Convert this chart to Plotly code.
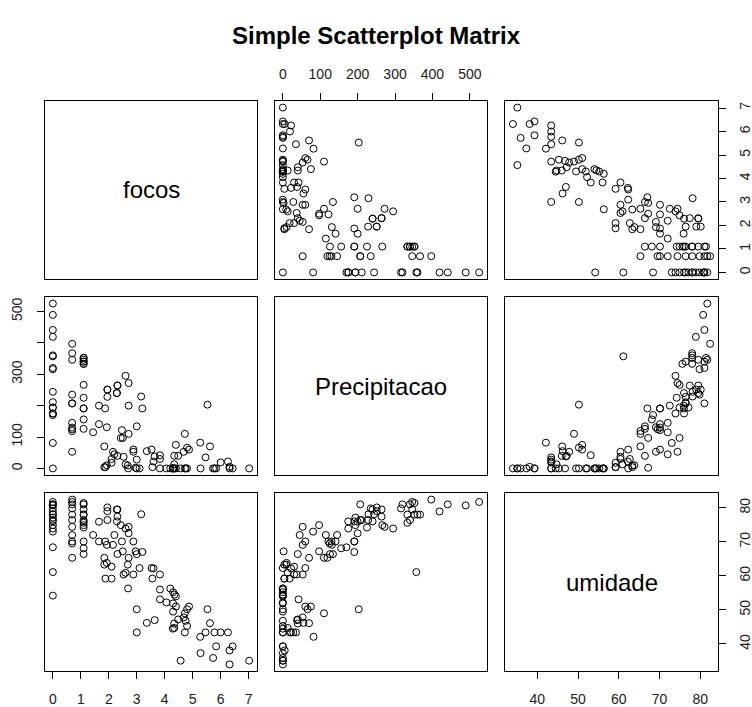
import plotly.graph_objects as go

# ---- data ----
focos = [0, 0, 0, 0, 0, 0, 0, 0, 0, 0, 0,
         0.69, 0.69, 0.69, 0.69, 0.69, 0.69, 0.69, 0.69, 0.69,
         1.1, 1.1, 1.1, 1.1, 1.1, 1.1, 1.1, 1.1, 1.1,
         1.44, 1.65, 1.65, 1.95, 1.95, 1.87, 1.93, 1.84, 1.93, 1.84, 1.88,
         2.2, 2.15, 2.31, 2.1, 2.1, 2.31, 2.29,
         2.47, 2.43, 2.5, 2.53, 2.6, 2.71, 2.71, 2.71, 2.68, 2.6, 2.69,
         2.88, 2.88, 3.16, 3.2, 3.0, 3.1, 2.96,
         3.53, 3.56, 3.6, 3.83, 3.83, 3.83,
         7.02, 6.32, 6.32, 6.43, 6.26, 6.0, 5.84, 5.73, 5.46, 5.78, 5.28, 5.27, 5.62, 5.53,
         4.2, 4.3, 4.35, 4.4, 4.06, 4.3, 4.87, 4.8, 4.3, 4.72, 4.68, 4.4, 4.48, 4.75,
         4.34, 4.8, 4.34, 4.29, 4.72, 4.57,
         3.0, 3.0, 3.36, 3.64,
         0, 0, 1.1, 0, 1.1, 0, 0.69, 1.1, 2.31, 1.95, 2.29, 0, 1.1, 0.69, 0]

precipitacao = [525, 489, 316, 244, 211, 194, 175, 81, 170, 357, 0,
                397, 346, 235, 207, 53, 145, 130, 125, 119,
                352, 346, 340, 333, 266, 225, 191, 156, 126,
                115, 200, 141, 251, 228, 191, 131, 70, 10, 4, 4,
                45, 53, 40, 30, 18, 264, 240,
                122, 97, 97, 37, 295, 272, 200, 110, 9, 13, 0,
                60, 53, 229, 191, 134, 0, 2,
                60, 4, 22, 30, 0, 42,
                0, 0, 5, 0, 22, 19, 0, 0, 35, 0, 0, 82, 70, 203,
                0, 0, 0, 0, 0, 0, 60, 66, 0, 110, 53, 75, 40, 0,
                40, 0, 13, 0, 0, 0,
                0, 28, 55, 38,
                441, 419, 340, 320, 333, 360, 367, 352, 264, 251, 240, 194, 191, 207, 175]

umidade = [81.7, 80.7, 79.8, 78.1, 76.4, 74.9, 73.9, 73.0, 68.4, 61.1, 54.2,
           82.4, 81.7, 79.8, 76.4, 74.4, 72.0, 70.1, 69.5, 65.3,
           81.4, 79.5, 76.4, 75.6, 74.9, 74.2, 70.1, 68.1, 66.4,
           72.0, 75.9, 70.1, 80.1, 76.4, 70.1, 69.1, 65.3, 63.8, 63.3, 59.2,
           72.0, 69.1, 66.4, 62.7, 59.2, 77.4, 76.0,
           70.1, 74.9, 67.2, 60.4, 73.9, 74.4, 72.5, 65.3, 63.3, 60.9, 56.3,
           70.1, 60.4, 78.1, 67.0, 66.4, 62.3, 67.2,
           62.3, 59.2, 62.2, 60.4, 56.0, 53.1,
           35.1, 34.0, 38.1, 39.3, 43.4, 43.4, 39.3, 35.9, 43.4, 43.4, 37.3, 42.1, 46.1, 50.2,
           56.3, 55.2, 54.5, 54.0, 52.2, 51.9, 51.0, 50.2, 49.5, 49.0, 47.8, 51.0, 47.2, 46.8,
           46.0, 45.3, 44.7, 44.5, 43.4, 35.1,
           50.2, 43.4, 46.2, 47.0,
           81.0, 78.9, 81.0, 81.0, 78.0, 78.0, 78.0, 78.0, 79.5, 79.0, 79.5, 77.1, 76.0, 81.0, 76.0]

var_names = ["focos", "Precipitacao", "umidade"]
tick_vals = [[0, 1, 2, 3, 4, 5, 6, 7],
             [0, 100, 200, 300, 400, 500],
             [40, 50, 60, 70, 80]]
tick_text_x = [["0", "1", "2", "3", "4", "5", "6", "7"],
               ["0", "100", "200", "300", "400", "500"],
               ["40", "50", "60", "70", "80"]]
tick_text_y = [["0", "1", "2", "3", "4", "5", "6", "7"],
               ["0", "100", "", "300", "", "500"],
               ["40", "50", "60", "70", "80"]]

data = [focos, precipitacao, umidade]

W, H = 752, 707
col_px = [(45, 257), (275, 487), (505, 718)]
row_px = [(101, 279), (297, 475), (493, 671)]


def rng(v):
    lo, hi = min(v), max(v)
    s = hi - lo
    return [lo - 0.04 * s, hi + 0.04 * s]


FONT = "Liberation Sans, Arial, sans-serif"
tickfont = dict(family=FONT, size=14, color="#1a1a1a")

fig = go.Figure()
layout = {}
for r in range(3):
    for c in range(3):
        k = r * 3 + c + 1
        xs = "" if k == 1 else str(k)
        xname, yname = "x" + xs, "y" + xs
        x0, x1 = col_px[c]
        y0, y1 = row_px[r]
        xa = dict(domain=[x0 / W, x1 / W], range=rng(data[c]), anchor=yname,
                  showgrid=False, zeroline=False, showline=True, mirror=True,
                  linecolor="black", linewidth=1, ticks="", showticklabels=False,
                  fixedrange=True)
        ya = dict(domain=[1 - y1 / H, 1 - y0 / H], range=rng(data[r]), anchor=xname,
                  showgrid=False, zeroline=False, showline=True, mirror=True,
                  linecolor="black", linewidth=1, ticks="", showticklabels=False,
                  fixedrange=True)
        tick_common = dict(ticks="outside", ticklen=7, tickwidth=1, tickcolor="black",
                           showticklabels=True, tickfont=tickfont)
        if r == 0 and c == 1:
            xa.update(side="top", tickvals=tick_vals[c], ticktext=tick_text_x[c],
                      ticklabelstandoff=8, **tick_common)
        if r == 2 and c in (0, 2):
            xa.update(side="bottom", tickvals=tick_vals[c], ticktext=tick_text_x[c],
                      ticklabelstandoff=8, **tick_common)
        if c == 0 and r == 1:
            ya.update(side="left", tickvals=tick_vals[r], ticktext=tick_text_y[r],
                      tickangle=-90, ticklabelstandoff=9, **tick_common)
        if c == 2 and r in (0, 2):
            ya.update(side="right", tickvals=tick_vals[r], ticktext=tick_text_y[r],
                      tickangle=-90, ticklabelstandoff=7, **tick_common)
        layout["xaxis" + xs] = xa
        layout["yaxis" + xs] = ya
        if r != c:
            fig.add_trace(go.Scatter(
                x=data[c], y=data[r], mode="markers", xaxis=xname, yaxis=yname,
                marker=dict(symbol="circle-open", size=7, color="black",
                            line=dict(width=1, color="black")),
                showlegend=False, hoverinfo="skip"))
        else:
            fig.add_trace(go.Scatter(x=[], y=[], xaxis=xname, yaxis=yname,
                                     showlegend=False))
            layout.setdefault("annotations", []).append(dict(
                text=var_names[r], xref="paper", yref="paper",
                x=(x0 + x1) / 2 / W, y=1 - (y0 + y1) / 2 / H,
                xanchor="center", yanchor="middle", showarrow=False,
                font=dict(family=FONT, size=24, color="black")))

fig.update_layout(**layout)
fig.update_layout(
    template="none",
    width=W, height=H, margin=dict(l=0, r=0, t=0, b=0),
    paper_bgcolor="white", plot_bgcolor="white",
    font=dict(family=FONT, color="#1a1a1a"),
    title=dict(text="<b>Simple Scatterplot Matrix</b>", x=0.5, xanchor="center",
               y=1 - 36 / H, yanchor="middle", yref="container",
               font=dict(family=FONT, size=24, color="black")),
)
fig.write_html("out.html")
